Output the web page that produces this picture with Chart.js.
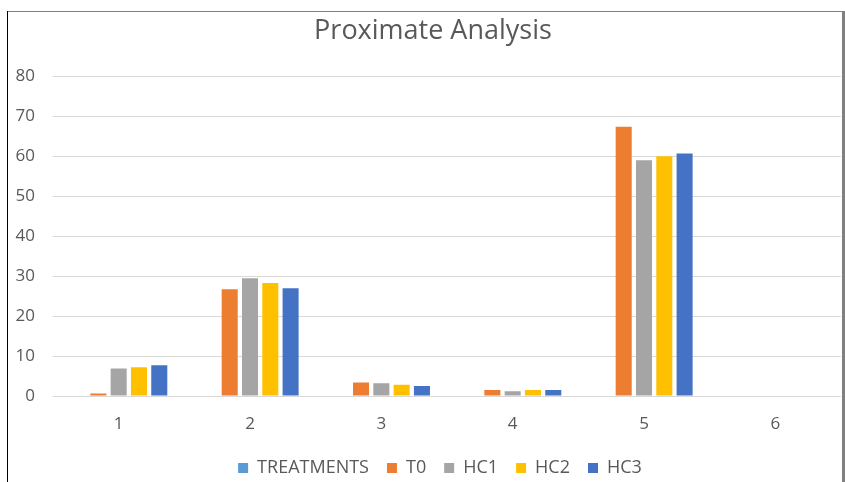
<!DOCTYPE html>
<html>
<head>
<meta charset="utf-8">
<script src="https://cdn.jsdelivr.net/npm/chart.js@4"></script>
<style>
  html, body { margin: 0; padding: 0; background: #fff; }
  #wrap { position: relative; width: 845px; height: 482px; }
</style>
</head>
<body>
<div id="wrap"><canvas id="c" width="845" height="482"></canvas></div>
<script>
const categories = ['1', '2', '3', '4', '5', '6'];
const seriesNames = ['TREATMENTS', 'T0', 'HC1', 'HC2', 'HC3'];
const treatments = [null, null, null, null, null, null];
const t0  = [0.6, 26.7, 3.4, 1.5, 67.4, null];
const hc1 = [6.9, 29.5, 3.2, 1.2, 59.0, null];
const hc2 = [7.2, 28.3, 2.8, 1.5, 60.0, null];
const hc3 = [7.7, 27.0, 2.5, 1.5, 60.7, null];
const yTicks = [0, 10, 20, 30, 40, 50, 60, 70, 80];

const colors = ['#5B9BD5', '#ED7D31', '#A5A5A5', '#FFC000', '#4472C4'];
const seriesData = [treatments, t0, hc1, hc2, hc3];
const FONT = "'Open Sans', 'DejaVu Sans', sans-serif";
const TEXT = '#595959';

const frame = {
  id: 'frame',
  afterLayout(chart) {
    if (chart.titleBlock) { chart.titleBlock.left += 9; chart.titleBlock.right += 9; }
    if (chart.legend) { chart.legend.left += 16; chart.legend.right += 16; }
  },
  afterDraw(chart) {
    const ctx = chart.ctx;
    ctx.save();
    ctx.fillStyle = '#808080';
    ctx.fillRect(7, 11, 836, 1);
    ctx.fillRect(842, 11, 3, 471);
    ctx.fillStyle = '#000000';
    ctx.fillRect(7, 11, 1, 471);
    ctx.restore();
  }
};

new Chart(document.getElementById('c'), {
  type: 'bar',
  data: {
    labels: categories,
    datasets: seriesNames.map((n, i) => ({
      label: n,
      data: seriesData[i],
      backgroundColor: colors[i],
      borderWidth: 0,
      categoryPercentage: 0.773,
      barPercentage: 0.79
    }))
  },
  options: {
    responsive: false,
    animation: false,
    devicePixelRatio: 1,
    layout: { padding: { left: 7, right: 4, top: 0, bottom: -5 } },
    plugins: {
      title: {
        display: true,
        text: 'Proximate Analysis',
        color: TEXT,
        font: { family: FONT, size: 27, weight: 'normal' },
        padding: { top: 15, bottom: 29 }
      },
      legend: {
        position: 'bottom',
        labels: {
          color: TEXT,
          font: { family: FONT, size: 18 },
          boxWidth: 10,
          boxHeight: 10,
          padding: 18
        }
      },
      tooltip: { enabled: false }
    },
    scales: {
      x: {
        grid: { display: false },
        border: { display: false },
        ticks: { color: TEXT, font: { family: FONT, size: 17 }, padding: 10 },
        afterFit(s) { s.height = 45; }
      },
      y: {
        min: 0, max: 80,
        afterBuildTicks(s) { s.ticks = yTicks.map(v => ({ value: v })); },
        grid: { color: '#D9D9D9', lineWidth: 1, drawTicks: false },
        border: { display: false },
        ticks: { color: TEXT, font: { family: FONT, size: 17 }, padding: 18 },
        afterFit(s) { s.width = 46; }
      }
    }
  },
  plugins: [frame]
});
</script>
</body>
</html>
